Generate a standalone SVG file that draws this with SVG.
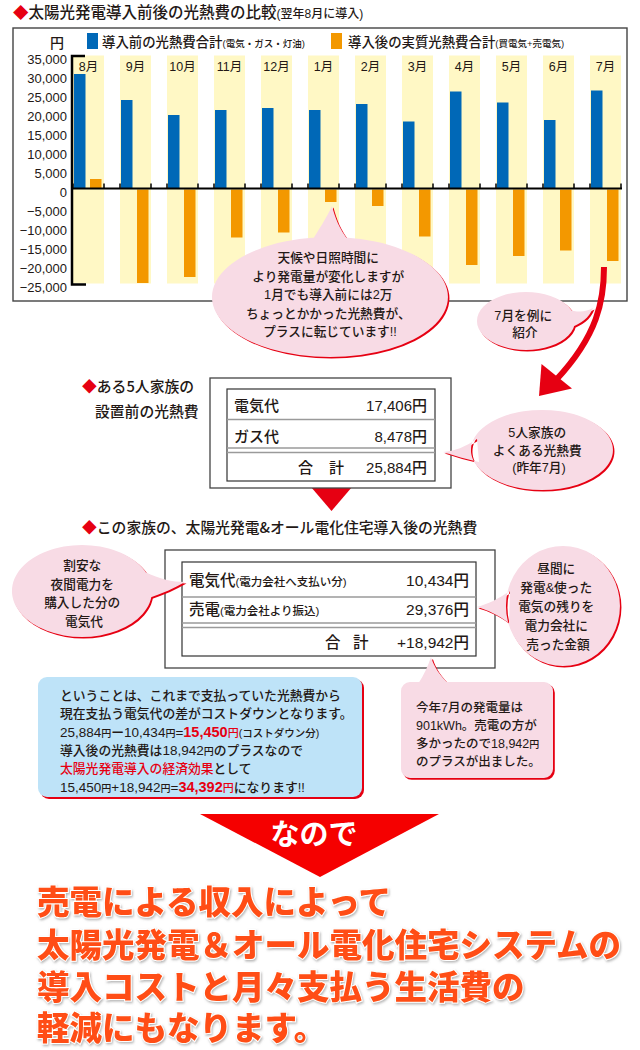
<svg xmlns="http://www.w3.org/2000/svg" xmlns:xlink="http://www.w3.org/1999/xlink" width="640" height="1050" viewBox="0 0 640 1050">
<defs>
<style>
.t{font-family:"Liberation Sans","Noto Sans CJK JP",sans-serif;fill:#231815;font-weight:500}
.j{font-family:"Noto Sans CJK JP",sans-serif;fill:#231815;font-weight:500}
.ax{font-family:"Liberation Sans",sans-serif;font-size:13px;fill:#231815;text-anchor:end}
.mo{font-family:"Liberation Sans","Noto Sans CJK JP",sans-serif;font-size:12.5px;fill:#231815;text-anchor:middle}
.band{fill:#FFF8C5}
.blue{fill:#0068B7}
.orange{fill:#F39800}
.bub{fill:#F8DBE5}
.shd{fill:#E60012}
.red{fill:#E60012}
.c{text-anchor:middle}
.tb{fill:#fff;stroke:#444;stroke-width:1.3}
.sep{stroke:#9a9a9a;stroke-width:1.4}
.big{font-family:"Noto Sans CJK JP",sans-serif;font-weight:900;font-size:32.5px;fill:#FF4E12;stroke:#fff;stroke-width:2;paint-order:stroke;filter:url(#sh)}
</style>
<filter id="sh" x="-5%" y="-10%" width="110%" height="120%"><feDropShadow dx="1" dy="1.5" stdDeviation="1.2" flood-color="#777" flood-opacity="0.55"/></filter>
<path id="b1" d="M330,237 A118,60 0 1 1 329.9,237 Z M312,241 C319,229 326,219 332,206 C335,217 339,229 349,241 Z"/>
<path id="b2" d="M526,292 A49,29 0 1 1 525.9,292 Z M567,309 C578,313 586,312 593,308 C589,318 581,324 569,328 Z"/>
<path id="b3" d="M542,410 A71,40 0 1 1 541.9,410 Z M477,439 C465,447 455,451 443,452 C455,456 466,459 479,462 Z"/>
<path id="b4" d="M82,545 A70,46 0 1 1 81.9,545 Z M145,572 C160,579 172,582 185,582 C175,588 163,593 149,598 Z"/>
<path id="b5" d="M563,546 A57,60 0 1 1 562.9,546 Z M510,591 C498,599 488,604 477,607 C488,610 498,615 509,623 Z"/>
<path id="b6" d="M410,682 H544 A9,9 0 0 1 553,691 V769 A9,9 0 0 1 544,778 H410 A9,9 0 0 1 401,769 V691 A9,9 0 0 1 410,682 Z M418,684 C424,675 428,666 431,657 C434,667 440,676 449,684 Z"/>
</defs>

<rect width="640" height="1050" fill="#fff"/>

<!-- Title -->
<g id="title">
<text class="t" x="13" y="18" font-size="15.5" font-weight="700"><tspan fill="#E60012">◆</tspan><tspan font-family="Noto Sans CJK JP">太陽光発電導入前後の光熱費の比較</tspan><tspan font-size="12">(翌年8月に導入)</tspan></text>
</g>

<!-- Chart -->
<g id="chart">
<rect x="13" y="28" width="614" height="273" fill="#fff" stroke="#444" stroke-width="1.4"/>
<g id="legend">
<rect x="87" y="33" width="11" height="16" class="blue"/>
<text class="t" x="102" y="47" font-size="13.4">導入前の光熱費合計<tspan font-size="9.5">(電気・ガス・灯油)</tspan></text>
<rect x="331" y="33" width="11" height="16" class="orange"/>
<text class="t" x="348" y="47" font-size="13.4">導入後の実質光熱費合計<tspan font-size="9.5">(買電気+売電気)</tspan></text>
</g>
<text class="j" x="57" y="47.5" font-size="14" text-anchor="middle">円</text>
<g id="yaxis-labels">
<text class="ax" x="67" y="63.5">35,000</text>
<text class="ax" x="67" y="82.5">30,000</text>
<text class="ax" x="67" y="101.5">25,000</text>
<text class="ax" x="67" y="120.5">20,000</text>
<text class="ax" x="67" y="139.5">15,000</text>
<text class="ax" x="67" y="158.5">10,000</text>
<text class="ax" x="67" y="177.5">5,000</text>
<text class="ax" x="67" y="196.5">0</text>
<text class="ax" x="67" y="215.5">−5,000</text>
<text class="ax" x="67" y="234.5">−10,000</text>
<text class="ax" x="67" y="253.5">−15,000</text>
<text class="ax" x="67" y="272.5">−20,000</text>
<text class="ax" x="67" y="291.5">−25,000</text>
</g>
<g id="bands">
<rect class="band" x="73" y="55.5" width="31" height="228"/>
<rect class="band" x="120" y="55.5" width="31" height="228"/>
<rect class="band" x="167" y="55.5" width="31" height="228"/>
<rect class="band" x="214" y="55.5" width="31" height="228"/>
<rect class="band" x="261" y="55.5" width="31" height="228"/>
<rect class="band" x="308" y="55.5" width="31" height="228"/>
<rect class="band" x="355" y="55.5" width="31" height="228"/>
<rect class="band" x="402" y="55.5" width="31" height="228"/>
<rect class="band" x="449" y="55.5" width="31" height="228"/>
<rect class="band" x="496" y="55.5" width="31" height="228"/>
<rect class="band" x="543" y="55.5" width="31" height="228"/>
<rect class="band" x="590" y="55.5" width="31" height="228"/>
</g>
<g id="months">
<text class="mo" x="88.5" y="71">8月</text>
<text class="mo" x="135.5" y="71">9月</text>
<text class="mo" x="182.5" y="71">10月</text>
<text class="mo" x="229.5" y="71">11月</text>
<text class="mo" x="276.5" y="71">12月</text>
<text class="mo" x="323.5" y="71">1月</text>
<text class="mo" x="370.5" y="71">2月</text>
<text class="mo" x="417.5" y="71">3月</text>
<text class="mo" x="464.5" y="71">4月</text>
<text class="mo" x="511.5" y="71">5月</text>
<text class="mo" x="558.5" y="71">6月</text>
<text class="mo" x="605.5" y="71">7月</text>
</g>
<g id="bars-before">
<rect class="blue" x="74" y="74" width="11.5" height="114.5"/>
<rect class="blue" x="121" y="100" width="11.5" height="88.5"/>
<rect class="blue" x="168" y="115" width="11.5" height="73.5"/>
<rect class="blue" x="215" y="110" width="11.5" height="78.5"/>
<rect class="blue" x="262" y="108" width="11.5" height="80.5"/>
<rect class="blue" x="309" y="110" width="11.5" height="78.5"/>
<rect class="blue" x="356" y="104" width="11.5" height="84.5"/>
<rect class="blue" x="403" y="121.5" width="11.5" height="67"/>
<rect class="blue" x="450" y="91.5" width="11.5" height="97"/>
<rect class="blue" x="497" y="102.5" width="11.5" height="86"/>
<rect class="blue" x="544" y="120" width="11.5" height="68.5"/>
<rect class="blue" x="591" y="90.5" width="11.5" height="98"/>
</g>
<g id="bars-after">
<rect class="orange" x="90" y="179" width="11.5" height="9.5"/>
<rect class="orange" x="137" y="189.5" width="11.5" height="93.5"/>
<rect class="orange" x="184" y="189.5" width="11.5" height="87.5"/>
<rect class="orange" x="231" y="189.5" width="11.5" height="48"/>
<rect class="orange" x="278" y="189.5" width="11.5" height="43"/>
<rect class="orange" x="325" y="189.5" width="11.5" height="12.5"/>
<rect class="orange" x="372" y="189.5" width="11.5" height="16.5"/>
<rect class="orange" x="419" y="189.5" width="11.5" height="47"/>
<rect class="orange" x="466" y="189.5" width="11.5" height="75.5"/>
<rect class="orange" x="513" y="189.5" width="11.5" height="66.5"/>
<rect class="orange" x="560" y="189.5" width="11.5" height="61"/>
<rect class="orange" x="607" y="189.5" width="11.5" height="71.5"/>
</g>
<g id="axes" fill="none" stroke="#000">
<path d="M85,56 H72 V284.5 H86" stroke-width="2.5"/>
<path d="M72,188.5 H622" stroke-width="2"/>
<path d="M73,183.5v5M104,183.5v5M120,183.5v5M151,183.5v5M167,183.5v5M198,183.5v5M214,183.5v5M245,183.5v5M261,183.5v5M292,183.5v5M308,183.5v5M339,183.5v5M355,183.5v5M386,183.5v5M402,183.5v5M433,183.5v5M449,183.5v5M480,183.5v5M496,183.5v5M527,183.5v5M543,183.5v5M574,183.5v5M590,183.5v5M621,183.5v5" stroke-width="1.5"/>
</g>
</g>

<!-- Callout: weather -->
<g id="callout-weather">
<use xlink:href="#b1" href="#b1" class="shd" transform="translate(1.5,1.5)"/>
<use xlink:href="#b1" href="#b1" class="bub"/>
<text class="t c" font-size="12.7">
<tspan x="330" y="262">天候や日照時間に</tspan>
<tspan x="330" y="280.5">より発電量が変化しますが</tspan>
<tspan x="330" y="299">1月でも導入前には2万</tspan>
<tspan x="330" y="317.5">ちょっとかかった光熱費が、</tspan>
<tspan x="330" y="336">プラスに転じています!!</tspan>
</text>
</g>

<!-- Callout: July example -->
<g id="callout-july">
<use xlink:href="#b2" href="#b2" class="shd" transform="translate(1.5,1.5)"/>
<use xlink:href="#b2" href="#b2" class="bub"/>
<text class="t c" font-size="12.7">
<tspan x="525" y="320">7月を例に</tspan>
<tspan x="525" y="337">紹介</tspan>
</text>
</g>

<!-- Connectors -->
<g id="connectors">
<path d="M604,267 C604,300 598,335 556,380" fill="none" stroke="#E60012" stroke-width="6"/>
<polygon points="541.5,364 572,388.5 539,396" class="red"/>
<polygon points="311,487 352,487 331.5,511" class="red"/>
</g>

<!-- Section 1 -->
<g id="label-before">
<text class="j" font-size="14.8"><tspan x="82" y="392" fill="#E60012">◆</tspan><tspan>ある5人家族の</tspan><tspan x="95" y="417">設置前の光熱費</tspan></text>
</g>
<g id="table-before">
<rect class="tb" x="210" y="378" width="241" height="110"/>
<rect x="227" y="389" width="208" height="92" fill="#fff" stroke="#333" stroke-width="1.2"/>
<line class="sep" x1="227" y1="419.5" x2="435" y2="419.5" stroke-width="2"/>
<line class="sep" x1="227" y1="448" x2="435" y2="448"/>
<line class="sep" x1="227" y1="452.5" x2="435" y2="452.5"/>
<text class="t" x="234" y="410.5" font-size="15">電気代</text>
<text class="t" x="427" y="410.5" font-size="15" text-anchor="end">17,406円</text>
<text class="t" x="234" y="441.5" font-size="15">ガス代</text>
<text class="t" x="427" y="441.5" font-size="15" text-anchor="end">8,478円</text>
<text class="t" x="298" y="472.5" font-size="15">合</text>
<text class="t" x="329" y="472.5" font-size="15">計</text>
<text class="t" x="427" y="472.5" font-size="15" text-anchor="end">25,884円</text>
</g>
<g id="callout-family">
<use xlink:href="#b3" href="#b3" class="shd" transform="translate(1.5,1.5)"/>
<use xlink:href="#b3" href="#b3" class="bub"/>
<text class="t c" font-size="12.7">
<tspan x="539" y="437">5人家族の</tspan>
<tspan x="539" y="454.5">よくある光熱費</tspan>
<tspan x="539" y="472">(昨年7月)</tspan>
</text>
</g>

<!-- Section 2 -->
<g id="label-after">
<text class="j" x="82" y="533" font-size="14.8"><tspan fill="#E60012">◆</tspan>この家族の、太陽光発電&amp;オール電化住宅導入後の光熱費</text>
</g>
<g id="table-after">
<rect class="tb" x="165" y="550" width="330" height="118"/>
<rect x="182" y="562" width="294" height="94" fill="#fff" stroke="#333" stroke-width="1.2"/>
<line class="sep" x1="182" y1="597" x2="476" y2="597" stroke-width="2"/>
<line class="sep" x1="182" y1="623" x2="476" y2="623"/>
<line class="sep" x1="182" y1="627.5" x2="476" y2="627.5"/>
<text class="t" x="189" y="585.5" font-size="15.5">電気代<tspan font-size="11.5">(電力会社へ支払い分)</tspan></text>
<text class="t" x="469" y="585.5" font-size="15.5" text-anchor="end">10,434円</text>
<text class="t" x="189" y="614.5" font-size="15.5">売電<tspan font-size="11.5">(電力会社より振込)</tspan></text>
<text class="t" x="469" y="614.5" font-size="15.5" text-anchor="end">29,376円</text>
<text class="t" x="325" y="647.5" font-size="15.5">合</text>
<text class="t" x="353" y="647.5" font-size="15.5">計</text>
<text class="t" x="469" y="647.5" font-size="15.5" text-anchor="end">+18,942円</text>
</g>
<g id="callout-night">
<use xlink:href="#b4" href="#b4" class="shd" transform="translate(1.5,1.5)"/>
<use xlink:href="#b4" href="#b4" class="bub"/>
<text class="t c" font-size="12.7">
<tspan x="84" y="570">割安な</tspan>
<tspan x="84" y="588.5">夜間電力を</tspan>
<tspan x="84" y="607">購入した分の</tspan>
<tspan x="84" y="625.5">電気代</tspan>
</text>
</g>
<g id="callout-sold">
<use xlink:href="#b5" href="#b5" class="shd" transform="translate(1.5,1.5)"/>
<use xlink:href="#b5" href="#b5" class="bub"/>
<text class="t c" font-size="12.7">
<tspan x="558" y="573">昼間に</tspan>
<tspan x="558" y="592">発電&amp;使った</tspan>
<tspan x="558" y="611">電気の残りを</tspan>
<tspan x="558" y="630">電力会社に</tspan>
<tspan x="558" y="649">売った金額</tspan>
</text>
</g>

<!-- Explanation box -->
<g id="explain">
<rect x="40" y="679" width="324" height="120" rx="9" class="shd"/>
<rect x="38" y="677" width="324" height="120" rx="9" fill="#BEE3F8"/>
<text class="t" font-size="12.8">
<tspan x="60" y="700">ということは、これまで支払っていた光熱費から</tspan>
<tspan x="60" y="717.5">現在支払う電気代の差がコストダウンとなります。</tspan>
<tspan x="60" y="737" font-size="13.5">25,884</tspan><tspan font-size="10">円</tspan><tspan>ー</tspan><tspan font-size="13.5">10,434</tspan><tspan font-size="10">円</tspan><tspan font-size="13.5">=</tspan><tspan font-size="14.5" fill="#E60012" font-weight="700">15,450</tspan><tspan font-size="11" fill="#E60012">円</tspan><tspan font-size="10.5">(コストダウン分)</tspan>
<tspan x="60" y="755">導入後の光熱費は</tspan><tspan font-size="13.5">18,942</tspan><tspan font-size="10">円</tspan><tspan>のプラスなので</tspan>
<tspan x="60" y="773" fill="#E60012">太陽光発電導入の経済効果</tspan><tspan>として</tspan>
<tspan x="60" y="792" font-size="13.5">15,450</tspan><tspan font-size="10">円</tspan><tspan font-size="13.5">+18,942</tspan><tspan font-size="10">円</tspan><tspan font-size="13.5">=</tspan><tspan font-size="14.5" fill="#E60012" font-weight="700">34,392</tspan><tspan font-size="11" fill="#E60012">円</tspan><tspan>になります!!</tspan>
</text>
</g>

<!-- Generation callout -->
<g id="callout-generation">
<use xlink:href="#b6" href="#b6" class="shd" transform="translate(1.8,1.8)"/>
<use xlink:href="#b6" href="#b6" class="bub"/>
<text class="t" font-size="12.5">
<tspan x="416" y="712">今年7月の発電量は</tspan>
<tspan x="416" y="729.5">901kWh。売電の方が</tspan>
<tspan x="416" y="747.5">多かったので18,942<tspan font-size="10">円</tspan></tspan>
<tspan x="416" y="765.5">のプラスが出ました。</tspan>
</text>
</g>

<!-- So -->
<g id="nanode">
<polygon points="200,814 439,814 320,877" fill="#F50000"/>
<text x="314" y="845" font-family="Noto Sans CJK JP, sans-serif" font-weight="700" font-size="29" fill="#fff" text-anchor="middle">なので</text>
</g>

<!-- Conclusion -->
<g id="conclusion">
<text class="big">
<tspan x="37" y="914">売電による収入によって</tspan>
<tspan x="37" y="957">太陽光発電＆オール電化住宅システムの</tspan>
<tspan x="37" y="999">導入コストと月々支払う生活費の</tspan>
<tspan x="37" y="1040">軽減にもなります。</tspan>
</text>
</g>
</svg>
